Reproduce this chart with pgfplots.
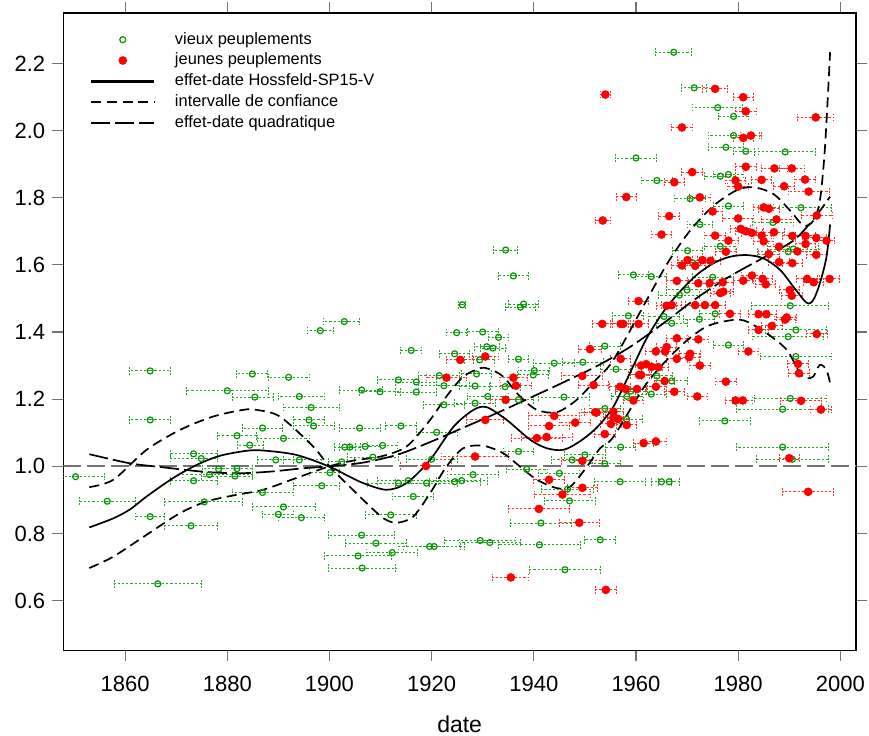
\documentclass[border=0pt]{standalone}
\usepackage{fontspec}
\setmainfont{Liberation Sans}
\usepackage{pgfplots}
\usepackage{pgfplotstable}
\pgfplotsset{compat=1.18}
\definecolor{gcol}{RGB}{0,150,0}
\definecolor{rcol}{RGB}{255,0,0}
\pgfplotsset{
  markleg/.style={legend image code/.code={\draw[mark repeat=2,mark phase=2,##1] plot coordinates {(0pt,0pt)(15.7pt,0pt)(31.35pt,0pt)};}},
  lineleg/.style={legend image code/.code={\draw[##1] (0pt,0pt) -- (31.35pt,0pt);}},
  thickleg/.style={legend image code/.code={\draw[black, line width=1.7pt] (0pt,0pt) -- (31.35pt,0pt);}},
}

\pgfplotstableread{
x y em ep
1864.9 1.284 4 4
1884.9 1.275 3 3
1892.0 1.265 4 4
1880.0 1.225 8 8
1885.4 1.206 4.4 3.7
1894.1 1.208 4 4.9
1906.3 1.227 4.3 4
1896.4 1.175 5.4 5.6
1864.9 1.138 4 4
1896.0 1.138 3.1 3
1896.9 1.120 4 4.1
1886.9 1.114 4 4
1905.9 1.114 4 4
1881.9 1.091 3.9 3.9
1891.0 1.083 5 5
1884.4 1.063 2.4 2.6
1903.0 1.057 2 2
1904.0 1.057 2 2
1873.4 1.037 4.5 4.6
1874.9 1.023 6 3.1
1889.5 1.019 3.5 3.4
1894.1 1.019 3.1 4.4
1902.4 1.013 2.5 2.5
1878.3 0.992 3.2 3.4
1881.9 0.993 3 3
1876.5 0.975 5.3 8.5
1881.5 0.971 6.5 3.5
1850.3 0.969 2.3 5.6
1900.1 0.981 4.1 1.9
1873.4 0.957 4.5 4.6
1898.5 0.942 5.6 3.5
1856.5 0.896 5.5 5.5
1875.5 0.894 7.7 7.4
1886.9 0.922 5.9 6
1864.9 0.850 2.9 2.9
1891.0 0.879 6.1 6.3
1890.0 0.857 3.2 2.9
1894.5 0.847 4.5 4.5
1872.9 0.823 5.1 5.1
1906.3 0.795 6.5 6.5
1905.6 0.733 6.5 6.5
1906.4 0.697 6.6 6.6
1866.4 0.650 8.5 8.5
1934.5 1.644 2.4 2.4
1936.0 1.567 3 3
1926.0 1.481 0.7 0.7
1938.0 1.483 3 3
1937.4 1.474 3 3
1902.9 1.431 4 3
1898.2 1.404 2.5 2.5
1924.9 1.398 2 2
1930.0 1.400 3 3
1933.1 1.384 2 2
1916.0 1.345 2 2
1930.8 1.356 2.5 2.5
1932.0 1.352 2.5 2.5
1924.5 1.335 3 3
1929.4 1.317 3 3
1937.0 1.319 2 2
1940.1 1.285 3 3
1939.9 1.272 3 3
1944.0 1.307 4 4
1949.6 1.310 4 4
1913.5 1.257 4 4
1917.0 1.251 4 4
1921.5 1.270 4 4
1928.8 1.275 3 3
1909.9 1.222 4 4
1917.0 1.221 4 4
1922.4 1.240 5 5
1928.5 1.239 3 3
1934.4 1.237 3 3
1937.0 1.198 3 3
1931.0 1.208 4 4
1928.5 1.188 4 4
1922.4 1.183 4 4
1945.9 1.206 5 5
1914.0 1.120 3 3
1921.0 1.101 4 4
1907.0 1.059 3 3
1910.4 1.062 3 3
1908.5 1.027 5 5
1920.0 1.021 5 5
1937.0 1.044 3 3
1938.6 0.991 4 4
1947.5 1.019 4 4
1950.0 1.034 4 4
1928.1 0.975 5 5
1924.5 0.954 5 5
1925.9 0.957 5 5
1919.0 0.950 6 6
1915.4 0.957 6 6
1913.5 0.950 6 6
1945.0 0.979 4 4
1947.0 0.897 5 5
1946.6 0.932 5 5
1916.4 0.910 4 4
1912.0 0.855 5 5
1941.4 0.831 6 6
1909.1 0.771 6 6
1919.6 0.761 6 6
1920.5 0.761 6 6
1929.5 0.779 7 7
1931.4 0.773 6 6
1941.1 0.766 8 8
1912.3 0.743 5 5
1946.1 0.692 7 7
1967.4 2.233 3.5 3.5
1971.4 2.127 2.5 2.5
1976.0 2.068 4.9 4.9
1979.1 2.042 3 3
1979.1 1.985 5 5
1977.6 1.950 3.5 3.5
1981.5 1.938 2.5 2.5
1989.2 1.936 6 6
1960.0 1.918 4 4
1964.1 1.851 3 3
1976.5 1.864 3 3
1978.1 1.869 3 3
1970.6 1.797 3 3
1978.1 1.775 3 3
1992.3 1.770 6 6
1972.5 1.720 2.5 2.5
1986.8 1.726 4 4
1976.5 1.655 3 3
1970.1 1.642 3 3
1990.8 1.647 5 5
1989.8 1.639 6 6
1959.5 1.570 3 3
1963.0 1.565 3 3
1971.1 1.606 3 3
1975.0 1.563 4 4
1968.5 1.510 4 4
1970.0 1.525 4 4
1990.2 1.478 7.5 7.5
1958.5 1.448 3 3
1975.5 1.454 3 3
1972.4 1.438 3 3
1965.5 1.446 3 3
1967.0 1.426 3 3
1991.3 1.406 6 6
1989.8 1.386 7 7
1953.9 1.358 3 3
1978.1 1.361 3 3
1991.3 1.327 7 7
1956.1 1.289 3 3
1964.1 1.269 3 3
1967.0 1.254 3 3
1958.2 1.208 3 3
1959.0 1.224 3 3
1963.0 1.215 3 3
1953.9 1.172 3 3
1958.2 1.140 3 3
1990.2 1.202 7 7
1988.7 1.170 9 9
1977.4 1.135 5 5
1957.0 1.057 3 3
1988.7 1.057 9 9
1990.6 1.021 7 7
1953.9 1.008 3 3
1956.9 0.954 5 5
1965.0 0.954 2 2
1966.5 0.954 2 2
1953.0 0.781 3 3
}\greentab

\pgfplotstableread{
x y em ep
1951.0 1.349 2.3 2.3
1930.5 1.327 2.5 2.5
1925.6 1.317 2.6 2.6
1922.9 1.264 3.9 3.9
1936.0 1.264 2.7 2.7
1936.5 1.240 3 3
1934.5 1.198 3 3
1949.5 1.269 4 4
1951.7 1.242 3 3
1952.3 1.160 3 3
1930.5 1.138 3.6 3.6
1944.0 1.150 5 5
1943.0 1.120 4 4
1948.1 1.130 3 3
1940.6 1.084 5 5
1942.5 1.087 5 5
1928.5 1.029 6.6 6.6
1918.9 1.001 5 5
1949.5 1.016 4 4
1943.0 0.960 3 3
1949.5 0.936 3 3
1945.6 0.916 5.5 5.5
1941.0 0.873 6 6
1948.9 0.832 3.9 3.9
1935.5 0.669 3.5 3.5
1954.1 0.632 2 2
1954.0 2.107 1 1
1975.5 2.124 2.4 2.4
1981.0 2.099 2 2
1981.5 2.057 2 2
1995.2 2.039 3.5 3.5
1969.0 2.009 2 2
1981.0 1.978 2 2
1982.5 1.985 2 2
1981.5 1.892 2 2
1987.1 1.887 2.5 2.5
1990.5 1.887 2.5 2.5
1971.0 1.876 2 2
1979.5 1.851 2 2
1980.0 1.833 2 2
1984.6 1.853 2 2
1993.1 1.854 2 2
1967.5 1.846 2 2
1989.0 1.834 2 2
1993.8 1.818 4 4
1958.1 1.802 2 2
1972.5 1.801 2 2
1985.0 1.771 2 2
1986.0 1.767 2 2
1975.0 1.759 2 2
1966.5 1.745 2 2
1995.4 1.747 3 3
1953.5 1.732 1.5 1.5
1980.0 1.738 3 3
1987.5 1.735 3 3
1965.0 1.690 2 2
1975.5 1.687 2 2
1978.1 1.672 2 2
1980.5 1.707 2 2
1981.5 1.700 2 2
1982.7 1.695 2 2
1984.6 1.687 2 2
1985.0 1.670 2 2
1987.0 1.697 2 2
1988.0 1.654 2 2
1990.6 1.686 2 2
1993.2 1.686 2 2
1995.3 1.680 2 2
1997.3 1.672 1.5 1.5
1993.2 1.662 2 2
1977.6 1.639 2 2
1986.0 1.632 2 2
1988.0 1.608 2 2
1990.6 1.605 2 2
1991.6 1.640 2 2
1995.3 1.630 2 2
1970.1 1.614 2 2
1974.6 1.612 2 2
1957.0 1.320 2 2
1953.4 1.424 2 2
1957.0 1.424 2 2
1957.5 1.424 2 2
1960.5 1.424 2 2
1960.5 1.492 2 2
1968.0 1.552 2 2
1973.0 1.614 2 2
1969.0 1.598 2 2
1971.6 1.597 2 2
1966.0 1.478 2 2
1967.0 1.480 2 2
1972.2 1.545 2 2
1974.4 1.545 2 2
1977.0 1.548 2 2
1976.5 1.516 2 2
1977.1 1.520 2 2
1971.6 1.480 2 2
1973.5 1.480 2 2
1975.5 1.480 2 2
1981.0 1.553 2 2
1982.7 1.568 2 2
1984.8 1.558 2 2
1985.4 1.542 2 2
1990.1 1.525 2 2
1990.5 1.508 2 2
1993.5 1.558 2 2
1994.8 1.548 2 2
1997.9 1.558 2 2
1978.4 1.454 2 2
1984.0 1.453 2 2
1985.5 1.453 2 2
1989.2 1.437 2 2
1989.5 1.443 2 2
1986.6 1.418 2 2
1984.0 1.406 2 2
1995.4 1.394 2 2
1968.0 1.381 2 2
1972.2 1.378 2 2
1966.0 1.355 2 2
1965.7 1.342 2 2
1963.9 1.342 2 2
1968.0 1.320 2 2
1963.1 1.296 2 2
1962.0 1.304 2 2
1961.0 1.300 2 2
1964.4 1.295 2 2
1970.4 1.325 2 2
1970.6 1.335 2 2
1972.5 1.300 2 2
1977.6 1.252 2 2
1982.0 1.342 2 2
1960.2 1.230 2 2
1958.0 1.230 2 2
1956.9 1.237 2 2
1960.6 1.272 2 2
1961.0 1.272 2 2
1959.5 1.196 2 2
1965.6 1.254 2 2
1963.9 1.237 2 2
1967.5 1.222 2 2
1956.5 1.141 2 2
1955.6 1.146 2 2
1955.1 1.126 2 2
1958.2 1.123 2 2
1955.6 1.163 2 2
1952.0 1.161 2 2
1953.9 1.096 2 2
1961.5 1.069 2 2
1963.9 1.074 2 2
1972.0 1.208 2 2
1979.5 1.196 2 2
1980.9 1.196 2 2
1992.3 1.195 4 4
1996.2 1.169 2 2
1990.0 1.024 2 2
1993.7 0.924 5 5
1991.9 1.277 2 2
1991.7 1.305 2 2
}\redtab

\pgfplotstableread{
x y
1853.0 0.818
1857.7 0.845
1861.0 0.872
1864.2 0.910
1869.4 0.965
1874.0 1.004
1878.5 1.031
1883.7 1.046
1887.0 1.047
1893.5 1.034
1900.0 0.999
1903.3 0.974
1906.6 0.950
1911.2 0.930
1915.1 0.950
1919.7 1.019
1924.3 1.118
1928.2 1.168
1930.8 1.176
1934.7 1.138
1939.3 1.079
1942.5 1.054
1945.8 1.049
1949.1 1.075
1952.5 1.118
1955.6 1.178
1958.8 1.277
1962.1 1.381
1965.4 1.461
1968.6 1.520
1971.9 1.570
1975.2 1.605
1978.4 1.624
1981.7 1.629
1985.0 1.619
1988.2 1.585
1990.8 1.535
1993.4 1.487
1994.7 1.495
1996.0 1.545
1997.3 1.624
1998.0 1.720
}\hosstab

\pgfplotstableread{
x y
1853.0 0.938
1857.7 0.960
1864.2 1.049
1870.7 1.108
1877.2 1.148
1883.1 1.168
1885.7 1.168
1890.3 1.148
1896.8 1.059
1900.0 1.000
1906.6 0.900
1910.6 0.845
1913.2 0.832
1916.4 0.850
1919.7 0.920
1922.9 0.999
1926.2 1.054
1930.1 1.061
1934.0 1.039
1937.3 0.999
1940.6 0.960
1944.5 0.935
1947.2 0.940
1950.4 0.999
1953.0 1.054
1955.6 1.088
1962.1 1.247
1968.6 1.356
1973.8 1.416
1979.1 1.436
1981.7 1.431
1985.6 1.396
1989.5 1.347
1992.1 1.277
1993.4 1.262
1994.7 1.267
1996.0 1.302
1997.3 1.287
1998.0 1.247
}\citabA

\pgfplotstableread{
x y
1853.0 0.697
1857.7 0.731
1864.2 0.796
1870.7 0.860
1875.9 0.895
1881.8 0.915
1887.0 0.930
1893.5 0.965
1900.0 1.000
1905.0 1.018
1910.0 1.029
1915.1 1.059
1919.7 1.138
1922.9 1.208
1926.2 1.267
1929.5 1.292
1931.4 1.289
1934.0 1.267
1937.3 1.208
1940.6 1.168
1944.5 1.161
1948.4 1.198
1952.3 1.260
1955.6 1.317
1962.1 1.495
1966.3 1.608
1970.6 1.702
1975.2 1.776
1979.7 1.822
1983.0 1.831
1986.9 1.811
1990.2 1.761
1992.8 1.717
1994.7 1.731
1996.0 1.791
1997.0 1.950
1998.0 2.233
}\citabB

\pgfplotstableread{
x y
1853.0 1.036
1860.9 1.009
1867.4 0.997
1875.2 0.984
1881.8 0.979
1888.3 0.984
1894.8 0.994
1900.0 1.000
1906.6 1.011
1913.2 1.034
1919.7 1.072
1926.2 1.115
1932.7 1.158
1939.3 1.204
1945.8 1.250
1952.3 1.298
1958.8 1.355
1965.3 1.425
1971.8 1.500
1978.3 1.565
1984.8 1.620
1990.8 1.672
1994.7 1.735
1998.0 1.803
}\quadtab

\begin{document}
\begin{tikzpicture}
\begin{axis}[
  scale only axis, width=396.35pt, height=318.5pt,
  xmin=1847.9, xmax=2003.07, ymin=0.452, ymax=2.349,
  xtick={1860,1880,...,2000},
  ytick={0.6,0.8,1.0,1.2,1.4,1.6,1.8,2.0,2.2},
  yticklabel style={/pgf/number format/.cd, fixed, fixed zerofill, precision=1},
  xticklabel style={/pgf/number format/1000 sep={}, yshift=-4pt},
  /pgf/number format/assume math mode=true,
  tick align=outside, tick pos=both,
  major tick length=5.5pt,
  every tick/.style={black!55, line width=0.6pt},
  axis line style={line width=0.8pt},
  ticklabel style={font=\fontsize{11}{13}\selectfont},
  xlabel={date},
  xlabel style={font=\fontsize{11.5}{13}\selectfont, yshift=-5pt},
  legend cell align=left,
  legend style={draw=none, fill=none, inner sep=0pt,
    at={(rel axis cs:0,1)}, anchor=north west, xshift=13pt, yshift=-7.8pt,
    font=\fontsize{8.2}{9.8}\selectfont, row sep=0pt,
    nodes={inner ysep=1pt, text height=6.4pt, text depth=2pt},
    /tikz/every odd column/.append style={column sep=7.6pt}},
]
\coordinate (O) at (rel axis cs:0,0);

\addplot[only marks, mark=o, mark size=1.5pt, draw=gcol, mark options={line width=0.6pt, solid}, markleg,
  error bars/.cd, x dir=both, x explicit,
  error bar style={gcol!85, line width=0.5pt, dash pattern=on 1.1pt off 1pt},
  error mark options={rotate=90, gcol!85, mark size=1.9pt, line width=0.5pt, dash pattern=on 0.9pt off 0.6pt}]
  table[x=x, y=y, x error minus=em, x error plus=ep]{\greentab};
\addlegendentry{vieux peuplements}

\addplot[only marks, mark=*, mark size=1.95pt, draw=rcol, fill=rcol, mark options={solid}, markleg,
  error bars/.cd, x dir=both, x explicit,
  error bar style={rcol!80, line width=0.5pt, dash pattern=on 1.1pt off 1pt},
  error mark options={rotate=90, rcol!80, mark size=1.9pt, line width=0.5pt, dash pattern=on 0.9pt off 0.6pt}]
  table[x=x, y=y, x error minus=em, x error plus=ep]{\redtab};
\addlegendentry{jeunes peuplements}

\addplot[forget plot, black!55, line width=1pt, dash pattern=on 9pt off 3pt]
  coordinates {(1847.9,1) (2003.07,1)};

\addplot[black, line width=0.85pt, smooth, thickleg] table[x=x, y=y]{\hosstab};
\addlegendentry{effet-date Hossfeld-SP15-V}

\addplot[black, line width=0.85pt, smooth, dash pattern=on 5pt off 2.8pt, lineleg] table[x=x, y=y]{\citabA};
\addlegendentry{intervalle de confiance}
\addplot[forget plot, black, line width=0.85pt, smooth, dash pattern=on 5pt off 2.8pt] table[x=x, y=y]{\citabB};

\addplot[black, line width=0.85pt, smooth, dash pattern=on 9.5pt off 2.5pt, lineleg] table[x=x, y=y]{\quadtab};
\addlegendentry{effet-date quadratique}
\end{axis}
\pgfresetboundingbox
\path (O) ++(-31.65pt,-42.35pt) rectangle ++(434.5pt,367.5pt);
\end{tikzpicture}
\end{document}
